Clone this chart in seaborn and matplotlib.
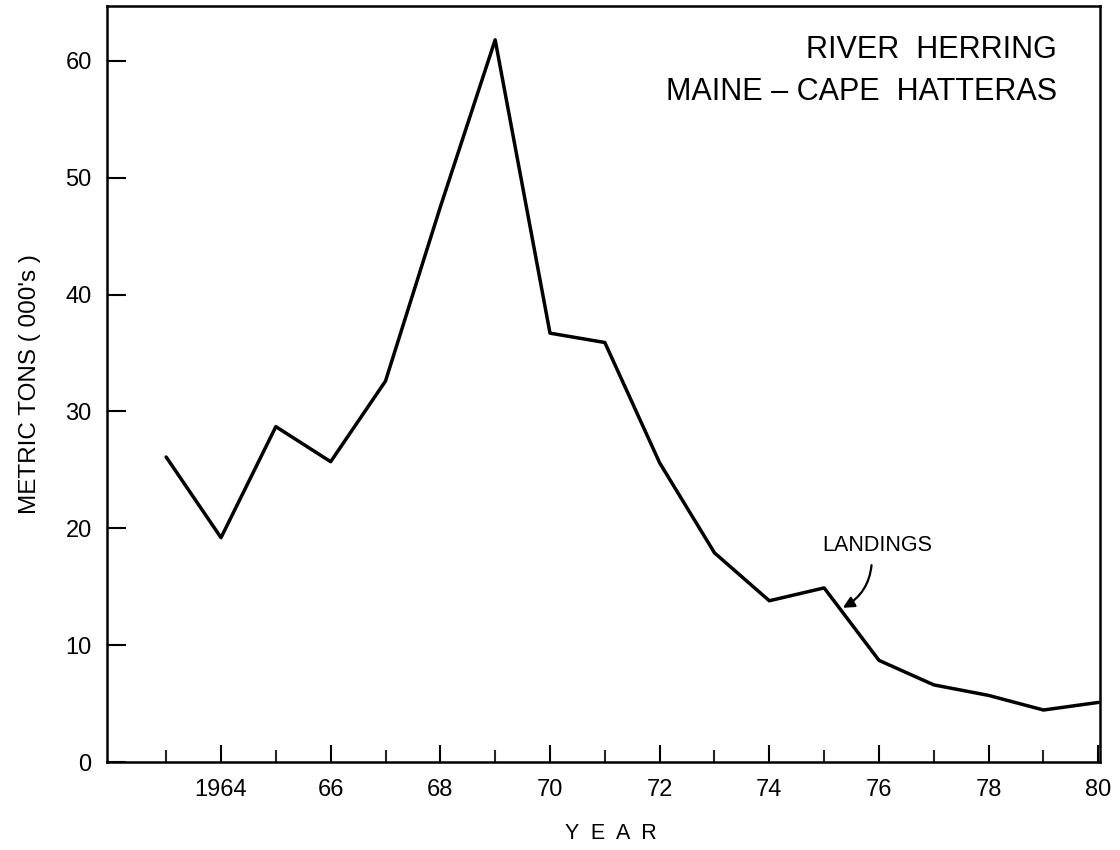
import matplotlib
matplotlib.use('Agg')
import matplotlib.pyplot as plt
import seaborn as sns
import pandas as pd

# landings, thousands of metric tons
years = [1963, 1964, 1965, 1966, 1967, 1968, 1969, 1970, 1971,
         1972, 1973, 1974, 1975, 1976, 1977, 1978, 1979, 1980]
landings = [26.1, 19.2, 28.7, 25.7, 32.6, 47.5, 61.8, 36.7, 35.9,
            25.6, 17.9, 13.8, 14.9, 8.7, 6.6, 5.7, 4.45, 5.1]

major_years = [1964, 1966, 1968, 1970, 1972, 1974, 1976, 1978, 1980]
major_labels = ['1964', '66', '68', '70', '72', '74', '76', '78', '80']
minor_years = [1963, 1965, 1967, 1969, 1971, 1973, 1975, 1977, 1979]
y_ticks = [0, 10, 20, 30, 40, 50, 60]

df = pd.DataFrame({'Year': years, 'Landings': landings})

sns.set_style('ticks')
plt.rcParams['font.family'] = ['Liberation Sans', 'DejaVu Sans']
plt.rcParams['text.color'] = 'black'
plt.rcParams['axes.labelcolor'] = 'black'

fig = plt.figure(figsize=(11.2, 8.5), dpi=100)
ax = fig.add_axes([0.0955, 0.1035, 0.8866, 0.8895])

sns.lineplot(x='Year', y='Landings', data=df, color='black', linewidth=2.5, ax=ax)

ax.set_xlim(1961.92, 1980.03)
ax.set_ylim(0, 64.7)

ax.set_xticks(major_years)
ax.set_xticklabels(major_labels)
ax.set_xticks(minor_years, minor=True)
ax.set_yticks(y_ticks)

ax.tick_params(axis='x', which='major', direction='in', length=12.5, width=1.5,
               pad=12, labelsize=17, colors='black')
ax.tick_params(axis='x', which='minor', direction='in', length=8.5, width=1.5)
ax.tick_params(axis='y', direction='in', length=14, width=1.5, pad=11,
               labelsize=17, colors='black')

for s in ax.spines.values():
    s.set_visible(True)
    s.set_linewidth(1.8)
    s.set_color('black')

ax.set_ylabel("METRIC TONS ( 000's )", fontsize=17.5)
ax.yaxis.set_label_coords(-0.066, 0.5)
ax.set_xlabel('Y  E  A  R', fontsize=15.5)
ax.xaxis.set_label_coords(0.507, -0.08)

ax.text(0.9567, 0.942, 'RIVER  HERRING', transform=ax.transAxes,
        ha='right', va='center', fontsize=22)
ax.text(0.9567, 0.886, 'MAINE \u2013 CAPE  HATTERAS', transform=ax.transAxes,
        ha='right', va='center', fontsize=22)

ax.annotate('LANDINGS', xy=(1975.34, 13.2), xytext=(1975.97, 18.5),
            ha='center', va='center', fontsize=15.5,
            arrowprops=dict(arrowstyle='-|>', color='black', lw=1.6,
                            connectionstyle='arc3,rad=-0.3',
                            relpos=(0.45, 0.0), shrinkA=4, shrinkB=0,
                            mutation_scale=17))

fig.savefig('out.png', dpi=100)
